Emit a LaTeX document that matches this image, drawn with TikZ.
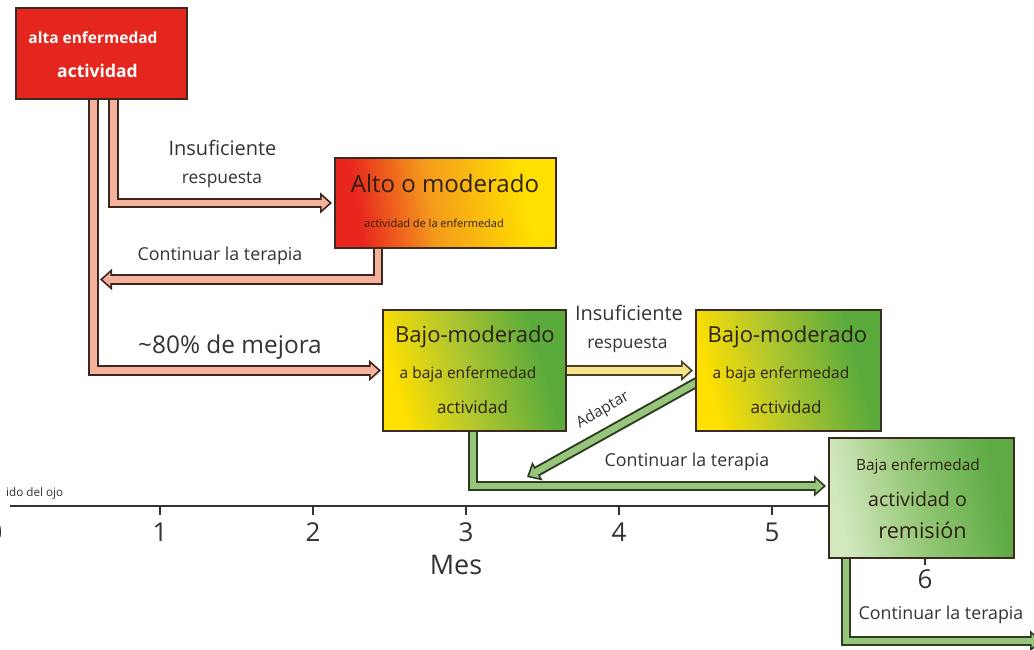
\documentclass[tikz,border=0pt]{standalone}
\usepackage{fontspec}
\setmainfont{Open Sans}
\usetikzlibrary{arrows.meta,backgrounds}
\definecolor{boxred}{HTML}{E5261F}
\definecolor{boxline}{HTML}{3A2A22}
\definecolor{altoleft}{HTML}{E8261E}
\definecolor{altomid}{HTML}{F49A1C}
\definecolor{altoright}{HTML}{FFE000}
\definecolor{bajoleft}{HTML}{FFE000}
\definecolor{bajomid}{HTML}{B2C72E}
\definecolor{bajoright}{HTML}{5AAB3C}
\definecolor{remleft}{HTML}{D2E8BF}
\definecolor{remmid}{HTML}{95C877}
\definecolor{remright}{HTML}{5EAB45}
\definecolor{salmon}{HTML}{F4B29C}
\definecolor{salmonline}{HTML}{3D2620}
\definecolor{greenband}{HTML}{98C57C}
\definecolor{greenline}{HTML}{2E3D20}
\definecolor{yellowband}{HTML}{F8E48A}
\definecolor{yellowline}{HTML}{4A4222}
\definecolor{txt}{HTML}{333333}
\definecolor{boxtxt}{HTML}{2E2015}
\pgfdeclarehorizontalshading{altoshade}{100bp}{color(0bp)=(altoleft); color(28bp)=(altoleft); color(46bp)=(altomid); color(70bp)=(altoright); color(100bp)=(altoright)}
\pgfdeclarehorizontalshading{bajoshade}{100bp}{color(0bp)=(bajoleft); color(26bp)=(bajoleft); color(46bp)=(bajomid); color(70bp)=(bajoright); color(100bp)=(bajoright)}
\pgfdeclarehorizontalshading{remshade}{100bp}{color(0bp)=(remleft); color(26bp)=(remleft); color(48bp)=(remmid); color(72bp)=(remright); color(100bp)=(remright)}
\begin{document}
\begin{tikzpicture}[x=1pt,y=-1pt,
  box/.style={draw=boxline,line width=2pt,inner sep=0pt},
  lbl/.style={text=txt,inner sep=0pt,font=\fontsize{#1pt}{#1pt}\selectfont},
  blbl/.style={text=boxtxt,inner sep=0pt,font=\fontsize{#1pt}{#1pt}\selectfont},
  fat/.style 2 args={draw=#2,line width=10.5pt,line join=miter,
    -{Triangle[length=12pt,width=21pt,line width=1.6pt,fill=#1]},
    postaction={draw=#1,line width=6.5pt,-,shorten >=7pt}},
  axisline/.style={draw=txt,line width=2pt},
  tickline/.style={draw=txt,line width=1.5pt}]
\useasboundingbox (0,0) rectangle (1034,650);

% boxes
\node[box,shading=altoshade,shading angle=10,minimum width=221pt,minimum height=90pt] (alto) at (445.5,203) {};
\node[box,fill=boxred,minimum width=171pt,minimum height=91pt] (red) at (101.5,54) {};
\node[box,shading=bajoshade,shading angle=15,minimum width=183pt,minimum height=121pt] (box1) at (474.5,370.5) {};
\node[box,shading=bajoshade,shading angle=15,minimum width=185pt,minimum height=121pt] (box2) at (788.5,370.5) {};
\node[box,shading=remshade,shading angle=12,minimum width=185pt,minimum height=120pt] (box5) at (921.5,498) {};

% box texts
\node[lbl=15.5,text=white] (redt1) at (93,38) {\bfseries alta enfermedad};
\node[lbl=17.5,text=white] (redt2) at (97.5,71) {\bfseries actividad};
\node[blbl=24] (altot1) at (445,184) {Alto o moderado};
\node[blbl=11] (altot2) at (434,223) {actividad de la enfermedad};
\node[blbl=22] (b1t1) at (475,337) {Bajo-moderado};
\node[blbl=15.5] (b1t2) at (468,374) {a baja enfermedad};
\node[blbl=17] (b1t3) at (472.5,407) {actividad};
\node[blbl=22] (b2t1) at (787.5,337) {Bajo-moderado};
\node[blbl=15.5] (b2t2) at (781,374) {a baja enfermedad};
\node[blbl=17] (b2t3) at (786,407) {actividad};
\node[blbl=15.4] (b5t1) at (918,466) {Baja enfermedad};
\node[blbl=19.6] (b5t2) at (917.5,499) {actividad o};
\node[blbl=21.6] (b5t3) at (922.5,530) {remisión};

% connector labels
\node[lbl=20] (l1a) at (222.5,148) {Insuficiente};
\node[lbl=17.4] (l1b) at (222,180) {respuesta};
\node[lbl=17.8] (l2) at (220,256) {Continuar la terapia};
\node[lbl=24.4] (l3) at (230,347) {\textasciitilde80\% de mejora};
\node[lbl=20] (l4a) at (629,313) {Insuficiente};
\node[lbl=17.4] (l4b) at (627.5,345) {respuesta};
\node[lbl=15.6,rotate=30] (l5) at (603,410) {Adaptar};
\node[lbl=17.8] (l6) at (687,462) {Continuar la terapia};
\node[lbl=17.8] (l7) at (941,615) {Continuar la terapia};

% free ends
\coordinate (c2) at (100,279.5);
\coordinate (c5) at (527,477);
\coordinate (c7) at (1042,641);

% axis labels
\node[lbl=11.7,anchor=west] (eye) at (6,493) {ido del ojo};
\node[lbl=26] (t0) at (-5,532) {0};
\node[lbl=26] (t1) at (160,532) {1};
\node[lbl=26] (t2) at (313,532) {2};
\node[lbl=26] (t3) at (466,532) {3};
\node[lbl=26] (t4) at (619,532) {4};
\node[lbl=26] (t5) at (772,532) {5};
\node[lbl=26] (t6) at (925,579) {6};
\node[lbl=27] (mes) at (456,565) {Mes};

\begin{scope}[on background layer]
  \draw[axisline] (10,506) -- (830,506);
  \foreach \i in {1,...,5} \draw[tickline] (7+153*\i,506) -- ++(0,9);
  \draw[tickline] (925,559) -- (925,565);

  \draw[fat={salmon}{salmonline}] ([xshift=12pt,yshift=4pt]red.south) |- ([xshift=-2pt]alto.west);
  \draw[fat={salmon}{salmonline}] ([xshift=-67.5pt,yshift=4pt]alto.south) |- (c2);
  \draw[fat={salmon}{salmonline}] ([xshift=-8pt,yshift=4pt]red.south) |- ([xshift=-1pt]box1.west);
  \draw[fat={yellowband}{yellowline}] ([xshift=-4pt]box1.east) -- ([xshift=-2pt]box2.west);
  \draw[fat={greenband}{greenline}] ([xshift=5pt,yshift=-10pt]box2.west) -- (c5);
  \draw[fat={greenband}{greenline}] ([xshift=-1.5pt,yshift=4pt]box1.south) |- ([xshift=-2pt,yshift=12pt]box5.west);
  \draw[fat={greenband}{greenline}] ([xshift=18pt,yshift=4pt]box5.south west) |- (c7);
\end{scope}
\end{tikzpicture}
\end{document}
